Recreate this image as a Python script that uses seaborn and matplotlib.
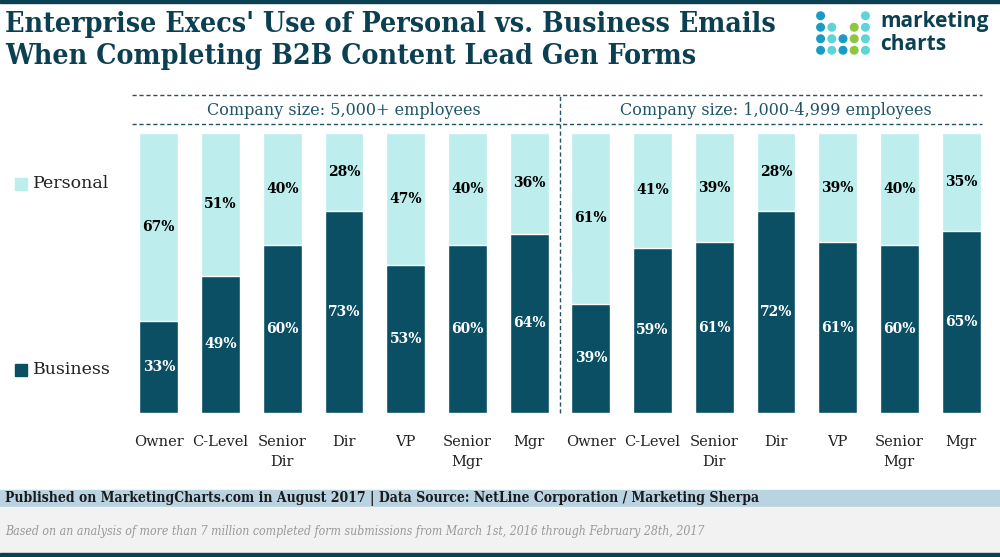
import pandas as pd
import seaborn as sns
import matplotlib.pyplot as plt
from matplotlib.patches import Rectangle

# data
roles = ["Owner", "C-Level", "Senior\nDir", "Dir", "VP", "Senior\nMgr", "Mgr"]
groups = ["Company size: 5,000+ employees", "Company size: 1,000-4,999 employees"]
personal_5000 = [67, 51, 40, 28, 47, 40, 36]
business_5000 = [33, 49, 60, 73, 53, 60, 64]
personal_1000 = [61, 41, 39, 28, 39, 40, 35]
business_1000 = [39, 59, 61, 72, 61, 60, 65]

PERSONAL = "#bdeded"
BUSINESS = "#0b4f64"
DARK = "#0b4052"

rows = []
for g, pers, bus in [(0, personal_5000, business_5000), (1, personal_1000, business_1000)]:
    for r, p, b in zip(roles, pers, bus):
        rows.append({"key": f"{g}_{r}", "role": r, "personal": p, "business": b})
df = pd.DataFrame(rows)
# 100% stacked
df["total"] = 100.0
df["bus_share"] = df["business"] / (df["business"] + df["personal"]) * 100

sns.set_style("white")
plt.rcParams["font.family"] = ["DejaVu Serif"]

fig = plt.figure(figsize=(10, 5.57), dpi=100)
ax = fig.add_axes([0.128, (557 - 413) / 557, 0.864, 280 / 557])

sns.barplot(data=df, x="key", y="total", color=PERSONAL, saturation=1,
            width=0.63, errorbar=None, ax=ax)
sns.barplot(data=df, x="key", y="bus_share", color=BUSINESS, saturation=1,
            width=0.63, errorbar=None, ax=ax)

ax.set_xlim(-0.5, 13.5)
ax.set_ylim(0, 100)
ax.set_xlabel("")
ax.set_ylabel("")
ax.set_yticks([])
ax.set_xticks(range(14))
ax.set_xticklabels(list(df["role"]), fontsize=10.5, color="#222222", linespacing=1.5)
ax.tick_params(axis="x", length=0, pad=16)
sns.despine(ax=ax, left=True, bottom=True)

for i, row in df.iterrows():
    bs = row["bus_share"]
    ax.text(i, bs / 2, f"{row['business']}%", ha="center", va="center",
            color="white", fontsize=10, fontweight="bold")
    ax.text(i, bs + (100 - bs) / 2, f"{row['personal']}%", ha="center", va="center",
            color="black", fontsize=10, fontweight="bold")

# group headers with dashed rules
tr = ax.get_xaxis_transform()
for y in [1.136, 1.032]:
    ax.plot([-0.435, 13.34], [y, y], transform=tr, clip_on=False,
            color="#1f5566", lw=1, ls=(0, (3, 2)))
ax.plot([6.5, 6.5], [0, 1.136], transform=tr, clip_on=False,
        color="#1f5566", lw=1, ls=(0, (3, 2)))
ax.text(3, 1.082, groups[0], transform=tr, ha="center", va="center",
        fontsize=11.5, color="#1f5566")
ax.text(10, 1.082, groups[1], transform=tr, ha="center", va="center",
        fontsize=11.5, color="#1f5566")

# legend
fig.patches.append(Rectangle((15 / 1000, 1 - 190 / 557), 12 / 1000, 12 / 557,
                             transform=fig.transFigure, color=PERSONAL))
fig.text(33 / 1000, 1 - 184 / 557, "Personal", fontsize=12.5, color="#222222", va="center")
fig.patches.append(Rectangle((15 / 1000, 1 - 376 / 557), 12 / 1000, 12 / 557,
                             transform=fig.transFigure, color=BUSINESS))
fig.text(33 / 1000, 1 - 370 / 557, "Business", fontsize=12.5, color="#222222", va="center")

# title
fig.text(0.005, 1 - 24 / 557, "Enterprise Execs' Use of Personal vs. Business Emails",
         fontsize=20.4, fontweight="bold", color=DARK, va="center", fontstretch="condensed")
fig.text(0.005, 1 - 57 / 557, "When Completing B2B Content Lead Gen Forms",
         fontsize=20.4, fontweight="bold", color=DARK, va="center", fontstretch="condensed")

# top border line
fig.patches.append(Rectangle((0, 1 - 3 / 557), 1, 3 / 557, transform=fig.transFigure, color=DARK))

# logo
lax = fig.add_axes([815 / 1000, 1 - 56 / 557, 56 / 1000, 46 / 557])
dots = [
    (0, 3, "#1a9bc6"), (4, 3, "#5fd4d6"),
    (0, 2, "#1a9bc6"), (1, 2, "#5fd4d6"), (3, 2, "#8dc63f"), (4, 2, "#5fd4d6"),
    (0, 1, "#1a9bc6"), (1, 1, "#5fd4d6"), (2, 1, "#1a9bc6"), (3, 1, "#8dc63f"), (4, 1, "#5fd4d6"),
    (0, 0, "#1a9bc6"), (1, 0, "#5fd4d6"), (2, 0, "#1a9bc6"), (3, 0, "#8dc63f"), (4, 0, "#5fd4d6"),
]
lax.scatter([d[0] for d in dots], [d[1] for d in dots], c=[d[2] for d in dots], s=30)
lax.set_xlim(-0.5, 4.5)
lax.set_ylim(-0.5, 3.5)
lax.axis("off")
fig.text(880 / 1000, 1 - 22 / 557, "marketing", fontsize=15, fontweight="bold",
         color=DARK, va="center", family=["Open Sans", "DejaVu Sans"])
fig.text(880 / 1000, 1 - 44 / 557, "charts", fontsize=15, fontweight="bold",
         color=DARK, va="center", family=["Open Sans", "DejaVu Sans"])

# footer
fig.patches.append(Rectangle((0, 1 - 507 / 557), 1, 17 / 557, transform=fig.transFigure, color="#b9d3e0"))
fig.patches.append(Rectangle((0, 4 / 557), 1, 1 - 507 / 557 - 4 / 557, transform=fig.transFigure, color="#f2f2f2"))
fig.patches.append(Rectangle((0, 0), 1, 4 / 557, transform=fig.transFigure, color=DARK))
fig.text(0.005, 1 - 498 / 557,
         "Published on MarketingCharts.com in August 2017 | Data Source: NetLine Corporation / Marketing Sherpa",
         fontsize=10, fontweight="bold", color="#1a1a1a", va="center", fontstretch="condensed")
fig.text(0.005, 1 - 532 / 557,
         "Based on an analysis of more than 7 million completed form submissions from March 1st, 2016 through February 28th, 2017",
         fontsize=8.8, style="italic", color="#999999", va="center", fontstretch="condensed")

fig.savefig("out.png", dpi=100)
